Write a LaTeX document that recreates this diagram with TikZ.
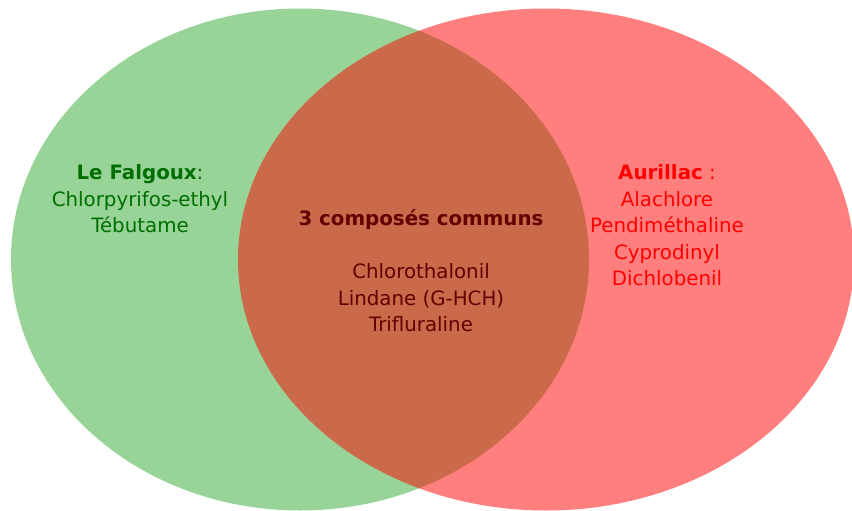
\documentclass[tikz,border=0pt]{standalone}
\usepackage{fontspec}
\setmainfont{DejaVu Sans}
\definecolor{setgreen}{RGB}{50,170,50}
\definecolor{setred}{RGB}{255,0,0}
\definecolor{txtgreen}{RGB}{0,110,0}
\definecolor{txtred}{RGB}{255,0,0}
\definecolor{txtdark}{RGB}{100,0,0}
\tikzset{
  setfill/.style={draw=none, fill=#1, fill opacity=0.5},
  lbl/.style={align=center, inner sep=0pt, font=\fontsize{19.8}{26.5}\selectfont, text=#1}
}
\begin{document}
\begin{tikzpicture}[x=1pt, y=-1pt]
\useasboundingbox (0,0) rectangle (852,511);
\fill[setfill=setgreen] (300,259.5) ellipse [x radius=289, y radius=251];
\fill[setfill=setred] (546,259.5) ellipse [x radius=308, y radius=251];
\node[lbl=txtgreen] (left) at (140,199) {\textbf{Le Falgoux}:\\Chlorpyrifos-ethyl\\Tébutame};
\node[lbl=txtred] (right) at (667,225.5) {\textbf{Aurillac} :\\Alachlore\\Pendiméthaline\\Cyprodinyl\\Dichlobenil};
\node[lbl=txtdark] (mid) at (421,271) {\textbf{3 composés communs}\\[26.5pt]Chlorothalonil\\Lindane (G-HCH)\\Trifluraline};
\end{tikzpicture}
\end{document}
